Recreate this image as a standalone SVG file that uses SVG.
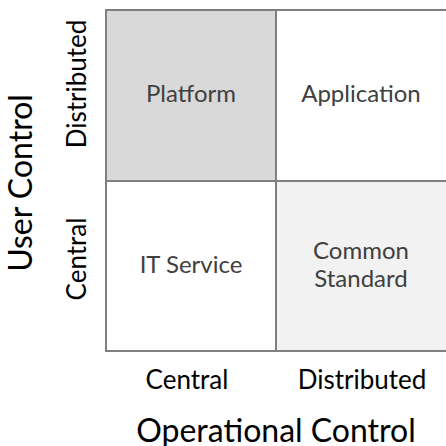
<svg xmlns="http://www.w3.org/2000/svg" width="446" height="446" viewBox="0 0 446 446">
<style>
.cell{stroke:#7f7f7f;stroke-width:2}
.lbl{font-family:Lato,"Liberation Sans",sans-serif;font-size:24px;fill:#404040;text-anchor:middle}
.ax{font-family:Lato,"Liberation Sans",sans-serif;font-size:26px;fill:#000;text-anchor:middle}
.title{font-family:Lato,"Liberation Sans",sans-serif;font-size:32px;fill:#000;text-anchor:middle}
</style>
<rect width="446" height="446" fill="#fff"/>
<g id="platform"><rect class="cell" x="106" y="10" width="170" height="171" fill="#d9d9d9"/><text class="lbl" x="191" y="102">Platform</text></g>
<g id="application"><rect class="cell" x="276" y="10" width="171" height="171" fill="#fff"/><text class="lbl" x="361" y="102">Application</text></g>
<g id="itservice"><rect class="cell" x="106" y="181" width="170" height="170" fill="#fff"/><text class="lbl" x="191" y="273">IT Service</text></g>
<g id="commonstandard"><rect class="cell" x="276" y="181" width="171" height="170" fill="#f2f2f2"/><text class="lbl" x="361" y="259">Common</text><text class="lbl" x="361" y="287">Standard</text></g>
<g id="connectors"></g>
<g id="axes">
<text class="ax" x="187" y="389">Central</text>
<text class="ax" x="362" y="389">Distributed</text>
<text class="title" x="276" y="442">Operational Control</text>
<text class="title" transform="translate(32,183) rotate(-90)">User Control</text>
<text class="ax" transform="translate(86,84) rotate(-90)">Distributed</text>
<text class="ax" transform="translate(86,259) rotate(-90)">Central</text>
</g>
</svg>
